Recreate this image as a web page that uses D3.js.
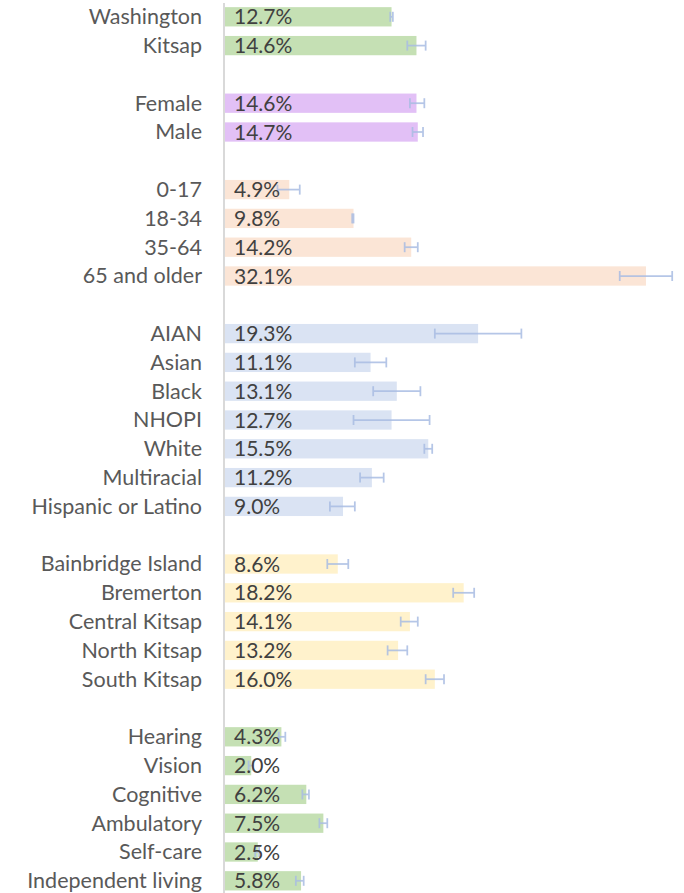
<!DOCTYPE html>
<html>
<head>
<meta charset="utf-8">
<script src="https://cdn.jsdelivr.net/npm/d3@7"></script>
<style>
  body { margin: 0; background: #fff; }
  text { font-family: Lato, "Open Sans", sans-serif; }
</style>
</head>
<body>
<svg id="chart" width="684" height="893"></svg>
<script>
// one entry per row, "" marks the blank spacer rows between groups
var categories = [
  'Washington', 'Kitsap', '',
  'Female', 'Male', '',
  '0-17', '18-34', '35-64', '65 and older', '',
  'AIAN', 'Asian', 'Black', 'NHOPI', 'White', 'Multiracial', 'Hispanic or Latino', '',
  'Bainbridge Island', 'Bremerton', 'Central Kitsap', 'North Kitsap', 'South Kitsap', '',
  'Hearing', 'Vision', 'Cognitive', 'Ambulatory', 'Self-care', 'Independent living'
];
var values = [
  12.7, 14.6, null,
  14.6, 14.7, null,
  4.9, 9.8, 14.2, 32.1, null,
  19.3, 11.1, 13.1, 12.7, 15.5, 11.2, 9.0, null,
  8.6, 18.2, 14.1, 13.2, 16.0, null,
  4.3, 2.0, 6.2, 7.5, 2.5, 5.8
];
var lower = [
  12.6, 13.9, null,
  14.1, 14.3, null,
  4.0, 9.7, 13.7, 30.1, null,
  16.0, 9.9, 11.3, 9.8, 15.2, 10.3, 8.0, null,
  7.8, 17.4, 13.4, 12.4, 15.3, null,
  4.1, 1.8, 5.9, 7.2, 2.3, 5.4
];
var upper = [
  12.8, 15.3, null,
  15.2, 15.1, null,
  5.7, 9.8, 14.7, 34.1, null,
  22.6, 12.3, 14.9, 15.6, 15.8, 12.1, 9.9, null,
  9.4, 19.0, 14.7, 13.9, 16.7, null,
  4.6, 2.1, 6.4, 7.8, 2.6, 6.0
];
// group index per row → fill colour
var groups = [
  0, 0, -1,
  1, 1, -1,
  2, 2, 2, 2, -1,
  3, 3, 3, 3, 3, 3, 3, -1,
  4, 4, 4, 4, 4, -1,
  0, 0, 0, 0, 0, 0
];
var groupColors = ['#c5e0b4', '#e2c0f6', '#fbe5d6', '#dae3f3', '#fff2cc'];

var rows = categories.map(function(c, i) {
  return { key: i, name: c, value: values[i], lo: lower[i], hi: upper[i], group: groups[i] };
});

var svg = d3.select('#chart');

var x = d3.scaleLinear().domain([0, 35]).range([225, 684]);
var y = d3.scaleBand()
    .domain(rows.map(function(d) { return d.key; }))
    .range([2.4, 895.2])
    .paddingInner(0.33)
    .paddingOuter(0.165);

var data = rows.filter(function(d) { return d.value !== null; });

svg.selectAll('rect.bar')
    .data(data)
  .enter().append('rect')
    .attr('class', 'bar')
    .attr('x', x(0))
    .attr('y', function(d) { return y(d.key); })
    .attr('width', function(d) { return x(d.value) - x(0); })
    .attr('height', y.bandwidth())
    .attr('fill', function(d) { return groupColors[d.group]; });

// axis line
svg.append('line')
    .attr('x1', x(0) - 1).attr('x2', x(0) - 1)
    .attr('y1', 3).attr('y2', 893)
    .attr('stroke', '#d9d9d9')
    .attr('stroke-width', 2);

// error bars
var err = svg.selectAll('g.err')
    .data(data)
  .enter().append('g')
    .attr('class', 'err')
    .attr('stroke', '#a9bde3')
    .attr('stroke-width', 1.75)
    .attr('opacity', 0.85);

err.append('line')
    .attr('x1', function(d) { return x(d.lo); })
    .attr('x2', function(d) { return x(d.hi); })
    .attr('y1', function(d) { return y(d.key) + y.bandwidth() / 2; })
    .attr('y2', function(d) { return y(d.key) + y.bandwidth() / 2; });

['lo', 'hi'].forEach(function(k) {
  err.append('line')
      .attr('x1', function(d) { return x(d[k]); })
      .attr('x2', function(d) { return x(d[k]); })
      .attr('y1', function(d) { return y(d.key) + y.bandwidth() / 2 - 5; })
      .attr('y2', function(d) { return y(d.key) + y.bandwidth() / 2 + 5; });
});

// data labels
svg.selectAll('text.val')
    .data(data)
  .enter().append('text')
    .attr('class', 'val')
    .attr('x', x(0) + 9)
    .attr('y', function(d) { return y(d.key) + y.bandwidth() / 2; })
    .attr('dy', '0.36em')
    .attr('font-size', 21)
    .attr('fill', '#404040')
    .text(function(d) { return d.value.toFixed(1) + '%'; });

// category labels
svg.selectAll('text.cat')
    .data(data)
  .enter().append('text')
    .attr('class', 'cat')
    .attr('x', 202)
    .attr('y', function(d) { return y(d.key) + y.bandwidth() / 2; })
    .attr('dy', '0.34em')
    .attr('text-anchor', 'end')
    .attr('font-size', 21.5)
    .attr('fill', '#595959')
    .text(function(d) { return d.name; });
</script>
</body>
</html>
